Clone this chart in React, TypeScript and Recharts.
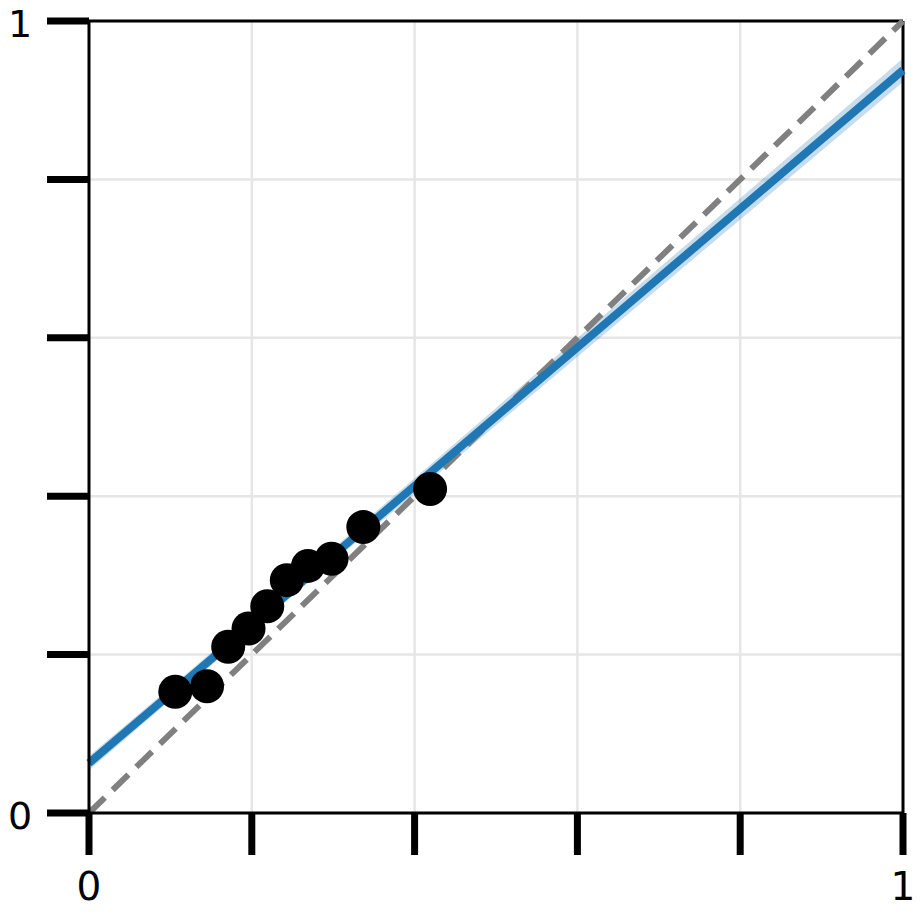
import {
  Area,
  CartesianGrid,
  ComposedChart,
  Line,
  ReferenceLine,
  Scatter,
  XAxis,
  YAxis,
} from 'recharts';

// observed points
const obsX = [0.106, 0.145, 0.171, 0.196, 0.219, 0.243, 0.269, 0.298, 0.337, 0.419];
const obsY = [0.153, 0.16, 0.21, 0.233, 0.261, 0.294, 0.312, 0.321, 0.361, 0.409];

// fitted line and its confidence band
const fitX = [0, 1];
const fitY = [0.063, 0.938];
const bandX = [0, 0.25, 0.5, 0.75, 1];
const bandLow = [0.054, 0.274, 0.4895, 0.706, 0.923];
const bandHigh = [0.072, 0.29, 0.5115, 0.732, 0.953];

// identity reference
const diagX = [0, 1];
const diagY = [0, 1];

const ticks = [0, 0.2, 0.4, 0.6, 0.8, 1];
const tickLabels: Record<number, string> = { 0: '0', 1: '1' };

const points = obsX.map((x, i) => ({ x, y: obsY[i] }));
const fit = fitX.map((x, i) => ({ x, fit: fitY[i] }));
const band = bandX.map((x, i) => ({ x, band: [bandLow[i], bandHigh[i]] }));
const diag = diagX.map((x, i) => ({ x, diag: diagY[i] }));

const FONT = 'DejaVu Sans';

const XTick = (props: any) => {
  const { x, y, payload } = props;
  const label = tickLabels[payload.value] ?? '';
  return (
    <text x={x} y={y + 43} textAnchor="middle" fontFamily={FONT} fontSize={39} fill="#000">
      {label}
    </text>
  );
};

const YTick = (props: any) => {
  const { x, y, payload } = props;
  const label = tickLabels[payload.value] ?? '';
  return (
    <text x={x - 25} y={y + 16} textAnchor="middle" fontFamily={FONT} fontSize={38} fill="#000">
      {label}
    </text>
  );
};

export default function App() {
  return (
    <ComposedChart
      width={913}
      height={908}
      margin={{ top: 13, right: 18, left: 0, bottom: 23 }}
    >
      <CartesianGrid stroke="#e6e6e6" strokeWidth={2.5} />
      <XAxis
        type="number"
        dataKey="x"
        domain={[0, 1]}
        ticks={ticks}
        interval={0}
        height={80}
        tickSize={42}
        tickLine={{ stroke: '#000', strokeWidth: 7 }}
        axisLine={{ stroke: '#000', strokeWidth: 3 }}
        tick={<XTick />}
      />
      <YAxis
        type="number"
        domain={[0, 1]}
        ticks={ticks}
        interval={0}
        width={81}
        tickSize={42}
        tickLine={{ stroke: '#000', strokeWidth: 7 }}
        axisLine={{ stroke: '#000', strokeWidth: 3 }}
        tick={<YTick />}
      />
      <ReferenceLine y={1} stroke="#000" strokeWidth={3} />
      <ReferenceLine x={1} stroke="#000" strokeWidth={3} />
      <Line
        data={diag}
        dataKey="diag"
        type="linear"
        stroke="#808080"
        strokeWidth={6}
        strokeDasharray="22 11"
        dot={false}
        isAnimationActive={false}
      />
      <Area
        data={band}
        dataKey="band"
        type="monotone"
        stroke="none"
        fill="#1f77b4"
        fillOpacity={0.25}
        isAnimationActive={false}
      />
      <Line
        data={fit}
        dataKey="fit"
        type="linear"
        stroke="#1f77b4"
        strokeWidth={8}
        dot={false}
        isAnimationActive={false}
      />
      <Scatter
        data={points}
        dataKey="y"
        fill="#000"
        shape={(p: any) => <circle cx={p.cx} cy={p.cy} r={17} fill="#000" />}
        isAnimationActive={false}
      />
    </ComposedChart>
  );
}
